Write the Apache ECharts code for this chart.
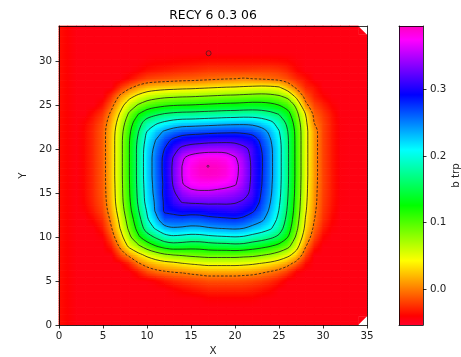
<!DOCTYPE html>
<html><head><meta charset="utf-8">
<script src="https://cdn.jsdelivr.net/npm/echarts@6/dist/echarts.min.js"></script>
<style>html,body{margin:0;padding:0;background:#fff;}#c{width:461px;height:357px;}</style>
</head><body><div id="c"></div>
<script>
const chartTitle = 'RECY 6 0.3 06';
const xTicks = [0, 5, 10, 15, 20, 25, 30, 35];
const yTicks = [0, 5, 10, 15, 20, 25, 30];
const cbarTicks = [0.0, 0.1, 0.2, 0.3];
const xRange = [0, 35];
const yRange = [0, 34];
const colorRange = [-0.054, 0.395];
const valueScale = 0.01; // grid values below are b trp in hundredths
const contourLevels = [0, 4, 8, 12, 16, 20, 24, 28, 32, 36];
const markers = [[17, 30.9], [16.93, 18.05]];
// rows: Y = 0..34, columns: X = 0..35 ; null = no data
const gridRows = [
[-3.6,-4.1,-4.6,-4.6,-4.6,-4.6,-4.6,-4.6,-4.6,-4.6,-4.6,-4.6,-4.6,-4.6,-4.6,-4.6,-4.6,-4.6,-4.6,-4.6,-4.6,-4.6,-4.6,-4.6,-4.6,-4.6,-4.6,-4.6,-4.6,-4.6,-4.6,-4.6,-4.6,-4.6,-4.6,null],
[-3.6,-4.1,-4.6,-4.6,-4.6,-4.6,-4.6,-4.6,-4.6,-4.6,-4.6,-4.6,-4.6,-4.6,-4.6,-4.6,-4.6,-4.6,-4.6,-4.6,-4.6,-4.6,-4.6,-4.6,-4.6,-4.6,-4.6,-4.6,-4.6,-4.6,-4.6,-4.6,-4.6,-4.6,-4.6,-4.6],
[-3.6,-4.1,-4.6,-4.6,-4.6,-4.6,-4.6,-4.6,-4.6,-4.6,-4.6,-4.6,-4.6,-4.6,-4.6,-4.6,-4.6,-4.6,-4.6,-4.6,-4.6,-4.6,-4.6,-4.6,-4.6,-4.6,-4.6,-4.6,-4.6,-4.6,-4.6,-4.6,-4.6,-4.6,-4.6,-4.6],
[-3.6,-4.1,-4.6,-4.6,-4.6,-4.6,-4.6,-4.6,-4.6,-4.6,-4.6,-4.6,-4.6,-4.6,-4.6,-4.6,-4.5,-4.2,-4.2,-4.2,-4.2,-4.2,-4.2,-4.5,-4.6,-4.6,-4.6,-4.6,-4.6,-4.6,-4.6,-4.6,-4.6,-4.6,-4.6,-4.6],
[-3.6,-4.1,-4.6,-4.6,-4.6,-4.6,-4.6,-4.6,-4.6,-4.6,-4.6,-4.6,-4.6,-4.3,-3.9,-3.6,-3.3,-3.0,-3.0,-3.0,-3.0,-3.0,-3.2,-3.5,-3.9,-4.6,-4.6,-4.6,-4.6,-4.6,-4.6,-4.6,-4.6,-4.6,-4.6,-4.6],
[-3.6,-4.1,-4.6,-4.6,-4.6,-4.6,-4.6,-4.6,-4.6,-4.6,-4.6,-4.2,-3.5,-2.9,-2.5,-2.2,-1.9,-1.6,-1.6,-1.6,-1.6,-1.7,-1.9,-2.2,-2.7,-3.5,-4.6,-4.6,-4.6,-4.6,-4.6,-4.6,-4.6,-4.6,-4.6,-4.6],
[-3.6,-4.1,-4.6,-4.6,-4.6,-4.6,-4.6,-4.6,-4.6,-3.5,-1.8,-0.9,-0.4,0.0,0.2,0.6,0.9,1.2,1.2,1.2,1.2,1.0,0.8,0.3,-0.3,-1.1,-2.4,-4.3,-4.6,-4.6,-4.6,-4.6,-4.6,-4.6,-4.6,-4.6],
[-3.6,-4.1,-4.6,-4.6,-4.6,-4.6,-4.6,-4.6,-3.0,-0.3,1.2,2.2,2.9,3.3,3.9,4.3,4.6,4.9,4.9,4.9,4.9,4.7,4.4,3.9,3.3,2.4,1.0,-1.1,-3.8,-4.6,-4.6,-4.6,-4.6,-4.6,-4.6,-4.6],
[-3.6,-4.1,-4.6,-4.6,-4.6,-4.6,-4.6,-1.6,0.9,3.1,4.9,6.4,7.6,8.2,8.5,8.9,9.2,9.5,9.5,9.5,9.5,9.2,9.0,8.4,7.7,6.6,5.0,2.6,-1.6,-4.6,-4.6,-4.6,-4.6,-4.6,-4.6,-4.6],
[-3.6,-4.1,-4.6,-4.6,-4.6,-4.6,-3.0,0.9,4.9,7.4,10.0,12.0,13.6,14.3,14.1,13.7,13.7,14.2,14.5,14.6,14.9,14.7,13.9,13.2,12.3,11.0,9.1,5.3,0.4,-3.1,-4.6,-4.6,-4.6,-4.6,-4.6,-4.6],
[-3.6,-4.1,-4.6,-4.6,-4.6,-4.3,-1.3,2.8,7.2,11.3,14.3,16.5,18.6,19.3,19.0,18.6,18.7,19.2,19.5,19.7,19.9,19.6,18.7,17.9,16.8,15.2,12.0,7.3,2.1,-1.6,-4.0,-4.6,-4.6,-4.6,-4.6,-4.6],
[-3.6,-4.1,-4.6,-4.6,-4.5,-3.2,0.0,4.3,8.9,13.3,17.8,20.5,22.8,23.7,23.5,23.1,23.2,23.7,24.0,24.2,24.4,24.0,23.0,21.9,20.5,17.8,13.8,8.7,3.3,-0.6,-3.1,-4.3,-4.6,-4.6,-4.6,-4.6],
[-3.6,-4.1,-4.6,-4.6,-3.8,-2.5,0.8,5.1,9.9,14.5,19.5,22.8,26.5,26.6,26.7,26.4,26.5,27.0,27.3,27.5,27.7,27.2,26.0,24.7,22.3,19.1,14.8,9.5,3.9,0.1,-2.5,-3.9,-4.6,-4.6,-4.6,-4.6],
[-3.6,-4.1,-4.6,-4.2,-3.1,-1.7,1.6,6.0,10.9,15.7,20.3,24.5,28.5,29.0,29.6,29.4,29.5,29.9,30.1,30.3,30.5,29.8,28.5,26.3,23.4,19.9,15.5,10.1,4.4,0.5,-2.2,-3.6,-4.6,-4.6,-4.6,-4.6],
[-3.6,-4.1,-4.6,-3.9,-2.7,-1.3,2.1,6.6,11.5,16.4,21.3,24.6,28.6,30.7,32.2,32.5,32.6,32.7,32.6,32.6,32.3,31.6,30.3,27.3,24.1,20.5,15.9,10.4,4.7,0.8,-2.0,-3.4,-4.5,-4.6,-4.6,-4.6],
[-3.6,-4.1,-4.6,-3.8,-2.6,-1.1,2.3,6.8,11.8,16.7,21.6,25.1,28.9,31.5,33.8,35.0,35.3,35.3,35.0,34.6,34.0,33.0,31.2,27.8,24.6,20.9,16.2,10.7,4.9,0.9,-1.9,-3.3,-4.5,-4.6,-4.6,-4.6],
[-3.6,-4.1,-4.6,-3.8,-2.6,-1.0,2.4,6.9,11.9,16.9,21.8,25.3,28.7,32.3,35.8,37.2,37.6,37.6,37.4,37.0,36.3,34.0,31.2,28.2,24.8,21.1,16.4,10.8,5.0,1.0,-1.8,-3.3,-4.5,-4.6,-4.6,-4.6],
[-3.6,-4.1,-4.6,-3.8,-2.6,-1.0,2.5,7.0,12.0,17.0,22.0,25.5,28.9,32.6,36.1,38.0,38.9,39.2,39.0,38.4,36.8,34.5,31.3,28.3,25.0,21.2,16.5,10.9,5.1,1.1,-1.8,-3.3,-4.5,-4.6,-4.6,-4.6],
[-3.6,-4.1,-4.6,-3.8,-2.6,-1.0,2.5,7.0,12.0,17.0,22.0,25.5,29.0,32.6,36.1,38.1,39.2,39.5,39.3,38.6,36.9,34.6,31.3,28.4,25.0,21.2,16.5,10.9,5.1,1.1,-1.8,-3.3,-4.5,-4.6,-4.6,-4.6],
[-3.6,-4.1,-4.6,-3.8,-2.6,-1.0,2.5,7.0,12.0,17.0,22.0,25.5,28.9,32.2,35.5,37.3,38.1,38.4,38.3,37.8,36.3,34.2,31.1,28.4,25.0,21.2,16.5,10.9,5.1,1.1,-1.8,-3.3,-4.5,-4.6,-4.6,-4.6],
[-3.6,-4.1,-4.6,-3.8,-2.6,-1.0,2.5,7.0,12.0,17.0,21.8,25.0,28.1,30.8,32.9,33.8,34.3,34.6,34.7,34.6,34.1,32.8,31.1,28.0,24.9,21.2,16.5,10.9,5.1,1.1,-1.8,-3.3,-4.5,-4.6,-4.6,-4.6],
[-3.6,-4.1,-4.6,-3.8,-2.6,-1.0,2.5,7.0,11.9,16.6,21.1,24.1,26.8,28.7,29.9,30.4,30.6,30.9,31.0,31.1,31.0,30.5,29.7,27.2,24.3,20.9,16.4,10.9,5.1,1.1,-1.8,-3.3,-4.5,-4.6,-4.6,-4.6],
[-3.6,-4.1,-4.6,-3.8,-2.6,-1.0,2.4,6.7,11.4,15.8,20.0,22.6,24.4,25.6,26.4,26.7,26.9,27.1,27.3,27.4,27.5,27.3,26.8,25.5,23.2,20.2,16.0,10.8,5.1,1.1,-1.8,-3.3,-4.5,-4.6,-4.6,-4.6],
[-3.6,-4.1,-4.6,-4.0,-2.9,-1.4,1.8,5.9,10.3,14.4,17.8,19.4,20.6,21.5,22.0,22.1,22.3,22.5,22.7,22.9,23.0,23.1,22.9,22.1,20.9,18.6,15.0,10.1,4.8,0.0,-1.8,-3.3,-4.5,-4.6,-4.6,-4.6],
[-3.6,-4.1,-4.6,-4.6,-3.5,-2.2,0.8,4.6,8.6,11.9,14.1,15.3,16.2,16.7,17.0,17.1,17.3,17.5,17.7,17.9,18.0,18.2,18.2,17.9,17.1,15.8,13.2,8.9,4.0,-0.8,-2.2,-3.5,-4.6,-4.6,-4.6,-4.6],
[-3.6,-4.1,-4.6,-4.6,-4.6,-3.5,-0.7,2.8,6.1,8.3,9.9,10.8,11.4,11.8,12.0,12.1,12.3,12.5,12.7,12.9,13.0,13.2,13.4,13.3,12.9,12.0,10.4,7.1,0.8,-1.8,-3.0,-4.1,-4.6,-4.6,-4.6,-4.6],
[-3.6,-4.1,-4.6,-4.6,-4.6,-4.6,-2.4,0.7,3.0,4.8,6.1,6.8,7.3,7.5,7.7,7.8,8.0,8.2,8.4,8.6,8.7,8.9,9.1,9.2,9.0,8.4,7.1,3.0,-1.0,-3.0,-4.0,-4.6,-4.6,-4.6,-4.6,-4.6],
[-3.6,-4.1,-4.6,-4.6,-4.6,-4.6,-4.6,-2.4,-0.5,1.0,2.1,2.6,2.9,3.1,3.3,3.4,3.6,3.8,4.0,4.2,4.3,4.5,4.7,4.9,4.8,4.4,2.0,-0.5,-2.8,-3.5,-4.6,-4.6,-4.6,-4.6,-4.6,-4.6],
[-3.6,-4.1,-4.6,-4.6,-4.6,-4.6,-4.6,-4.6,-3.8,-2.7,-1.9,-1.6,-1.4,-1.2,-1.0,-0.9,-0.7,-0.5,-0.3,-0.1,0.0,0.2,0.0,-0.2,-0.5,-0.9,-1.6,-2.8,-3.6,-4.6,-4.6,-4.6,-4.6,-4.6,-4.6,-4.6],
[-3.6,-4.1,-4.6,-4.6,-4.6,-4.6,-4.6,-4.6,-4.6,-4.3,-3.7,-3.5,-3.3,-3.1,-2.9,-2.8,-2.6,-2.4,-2.4,-2.4,-2.4,-2.4,-2.3,-2.2,-2.2,-2.4,-3.0,-4.0,-4.6,-4.6,-4.6,-4.6,-4.6,-4.6,-4.6,-4.6],
[-3.6,-4.1,-4.6,-4.6,-4.6,-4.6,-4.6,-4.6,-4.6,-4.6,-4.4,-4.2,-4.2,-4.1,-4.0,-3.9,-3.8,-3.7,-3.7,-3.7,-3.7,-3.7,-3.7,-3.7,-3.7,-3.8,-4.0,-4.4,-4.6,-4.6,-4.6,-4.6,-4.6,-4.6,-4.6,-4.6],
[-3.6,-4.1,-4.6,-4.6,-4.6,-4.6,-4.6,-4.6,-4.6,-4.6,-4.6,-4.6,-4.6,-4.6,-4.6,-4.6,-4.6,-4.6,-4.6,-4.6,-4.6,-4.6,-4.6,-4.6,-4.6,-4.6,-4.6,-4.6,-4.6,-4.6,-4.6,-4.6,-4.6,-4.6,-4.6,-4.6],
[-3.6,-4.1,-4.6,-4.6,-4.6,-4.6,-4.6,-4.6,-4.6,-4.6,-4.6,-4.6,-4.6,-4.6,-4.6,-4.6,-4.6,-4.6,-4.6,-4.6,-4.6,-4.6,-4.6,-4.6,-4.6,-4.6,-4.6,-4.6,-4.6,-4.6,-4.6,-4.6,-4.6,-4.6,-4.6,-4.6],
[-3.6,-4.1,-4.6,-4.6,-4.6,-4.6,-4.6,-4.6,-4.6,-4.6,-4.6,-4.6,-4.6,-4.6,-4.6,-4.6,-4.6,-4.6,-4.6,-4.6,-4.6,-4.6,-4.6,-4.6,-4.6,-4.6,-4.6,-4.6,-4.6,-4.6,-4.6,-4.6,-4.6,-4.6,-4.6,-4.6],
[-3.6,-4.1,-4.6,-4.6,-4.6,-4.6,-4.6,-4.6,-4.6,-4.6,-4.6,-4.6,-4.6,-4.6,-4.6,-4.6,-4.6,-4.6,-4.6,-4.6,-4.6,-4.6,-4.6,-4.6,-4.6,-4.6,-4.6,-4.6,-4.6,-4.6,-4.6,-4.6,-4.6,-4.6,-4.6,null]
];

// ---- gist_rainbow colormap (style) ----
const cmapKnots = [0, 0.03, 0.215, 0.4, 0.586, 0.77, 0.954, 1];
const cmapRGB = [[1,0,0.16],[1,0,0],[1,1,0],[0,1,0],[0,1,1],[0,0,1],[1,0,1],[1,0,0.75]];
function rgbStr(c){return 'rgb('+Math.round(c[0]*255)+','+Math.round(c[1]*255)+','+Math.round(c[2]*255)+')';}
function cmapFrac(f){
  f = Math.max(0, Math.min(1, f));
  for (let k = 0; k < cmapKnots.length - 1; k++) {
    if (f <= cmapKnots[k+1]) {
      const t = (f - cmapKnots[k]) / (cmapKnots[k+1] - cmapKnots[k]);
      const a = cmapRGB[k], b = cmapRGB[k+1];
      return rgbStr([a[0]+(b[0]-a[0])*t, a[1]+(b[1]-a[1])*t, a[2]+(b[2]-a[2])*t]);
    }
  }
  return rgbStr(cmapRGB[cmapRGB.length-1]);
}
function colorOf(v){ return cmapFrac((v*valueScale - colorRange[0]) / (colorRange[1] - colorRange[0])); }

// ---- cells ----
const nY = gridRows.length, nX = gridRows[0].length;
const cells = [];
for (let j = 0; j < nY - 1; j++) for (let i = 0; i < nX - 1; i++) cells.push([i, j]);

function renderCell(params, api){
  const i = api.value(0), j = api.value(1);
  const v00 = gridRows[j][i], v10 = gridRows[j][i+1], v01 = gridRows[j+1][i], v11 = gridRows[j+1][i+1];
  const corners = [[v00,i,j],[v10,i+1,j],[v11,i+1,j+1],[v01,i,j+1]];
  if (corners.some(c => c[0] === null)) {
    const ok = corners.filter(c => c[0] !== null);
    if (ok.length < 3) return null;
    const avg = ok.reduce((s,c)=>s+c[0],0)/ok.length;
    return {type:'polygon', shape:{points: ok.map(c => api.coord([c[1], c[2]]))}, style:{fill: colorOf(avg)}};
  }
  const pA = api.coord([i, j]), pB = api.coord([i+1, j+1]);
  const x0 = pA[0], x1 = pB[0], yb = pA[1], yt = pB[1];
  const n = 5, children = [];
  for (let k = 0; k < n; k++) {
    const tm = (k + 0.5) / n;
    const L = v00 + (v01 - v00) * tm, R = v10 + (v11 - v10) * tm;
    const yTop = yb + (yt - yb) * (k + 1) / n, yBot = yb + (yt - yb) * k / n;
    const stops = [0, 0.25, 0.5, 0.75, 1].map(s => ({offset: s, color: colorOf(L + (R - L) * s)}));
    children.push({type:'rect', shape:{x: x0 - 0.35, y: yTop - 0.35, width: x1 - x0 + 0.7, height: yBot - yTop + 0.7},
      style:{fill:{type:'linear', x:0, y:0, x2:1, y2:0, colorStops: stops, global:false}}});
  }
  return {type:'group', children};
}

// ---- contours (marching squares on the grid) ----
function contourLines(level){
  const val = (i,j) => gridRows[j][i];
  function ep(kind, i, j){
    if (kind === 'h') { const a = val(i,j), b = val(i+1,j); const t = (level-a)/(b-a); return ['h'+i+'_'+j, [i+t, j]]; }
    const a = val(i,j), b = val(i,j+1); const t = (level-a)/(b-a); return ['v'+i+'_'+j, [i, j+t]];
  }
  const segs = [];
  for (let j = 0; j < nY-1; j++) for (let i = 0; i < nX-1; i++) {
    const v00 = val(i,j), v10 = val(i+1,j), v11 = val(i+1,j+1), v01 = val(i,j+1);
    if (v00 === null || v10 === null || v11 === null || v01 === null) continue;
    const b00 = v00 > level, b10 = v10 > level, b11 = v11 > level, b01 = v01 > level;
    const e = [];
    if (b00 !== b10) e.push(ep('h', i, j));
    if (b10 !== b11) e.push(ep('v', i+1, j));
    if (b01 !== b11) e.push(ep('h', i, j+1));
    if (b00 !== b01) e.push(ep('v', i, j));
    if (e.length === 2) segs.push([e[0], e[1]]);
    else if (e.length === 4) {
      const c = (v00+v10+v11+v01)/4 > level;
      if (c === b00) { segs.push([e[0], e[1]]); segs.push([e[2], e[3]]); }
      else { segs.push([e[3], e[0]]); segs.push([e[1], e[2]]); }
    }
  }
  const byKey = new Map();
  segs.forEach((s, idx) => s.forEach(p => { if (!byKey.has(p[0])) byKey.set(p[0], []); byKey.get(p[0]).push(idx); }));
  const used = new Array(segs.length).fill(false);
  const lines = [];
  for (let s0 = 0; s0 < segs.length; s0++) {
    if (used[s0]) continue;
    used[s0] = true;
    const pts = [segs[s0][0][1], segs[s0][1][1]];
    let endKey = segs[s0][1][0];
    for (;;) {
      const c = (byKey.get(endKey) || []).filter(k => !used[k]);
      if (!c.length) break;
      used[c[0]] = true; const s = segs[c[0]];
      const o = s[0][0] === endKey ? s[1] : s[0];
      pts.push(o[1]); endKey = o[0];
    }
    let startKey = segs[s0][0][0];
    for (;;) {
      const c = (byKey.get(startKey) || []).filter(k => !used[k]);
      if (!c.length) break;
      used[c[0]] = true; const s = segs[c[0]];
      const o = s[0][0] === startKey ? s[1] : s[0];
      pts.unshift(o[1]); startKey = o[0];
    }
    lines.push(pts);
  }
  return lines;
}

const font = 'DejaVu Sans';
const series = [];
series.push({type:'custom', xAxisIndex:0, yAxisIndex:0, data: cells, encode:{x:0, y:1},
  renderItem: renderCell, silent:true, progressive:0, animation:false, z:1});
contourLevels.forEach(L => {
  contourLines(L).forEach(pts => {
    series.push({type:'line', xAxisIndex:0, yAxisIndex:0, data: pts, showSymbol:false, symbol:'none',
      smooth:0.3, silent:true, animation:false, z:5,
      lineStyle:{color:'#1a1a1a', width:0.8, type: L <= 0 ? [2.6, 1.6] : 'solid'}});
  });
});
series.push({type:'scatter', xAxisIndex:0, yAxisIndex:0, data: markers, symbol:'circle',
  symbolSize: (v, p) => p.dataIndex === 0 ? 5 : 2, silent:true, animation:false, z:6,
  itemStyle:{color:'rgba(0,0,0,0)', borderColor:'#222', borderWidth:0.8}});
// colorbar
series.push({type:'custom', xAxisIndex:2, yAxisIndex:2, data:[[0, colorRange[0]]], silent:true, animation:false, z:1,
  renderItem: function(params, api){
    const p0 = api.coord([0, colorRange[0]]), p1 = api.coord([1, colorRange[1]]);
    return {type:'rect', shape:{x:p0[0], y:p1[1], width:p1[0]-p0[0], height:p0[1]-p1[1]},
      style:{fill:{type:'linear', x:0, y:1, x2:0, y2:0, global:false,
        colorStops: cmapKnots.map((k, i) => ({offset:k, color: rgbStr(cmapRGB[i])}))}}};
  }});

const lineOnly = (extra) => Object.assign({type:'value', z:10, splitLine:{show:false},
  axisLine:{show:true, onZero:false, lineStyle:{color:'#000', width:0.8}},
  axisTick:{show:false}, axisLabel:{show:false}}, extra);
const tickStyle = {color:'#000', width:0.8};
const labelStyle = {fontSize:10.3, color:'#222', fontFamily:font};

const option = {
  animation:false,
  textStyle:{fontFamily:font},
  title:{text: chartTitle, left:213, top:9.5, padding:0, textAlign:'center',
    textStyle:{fontSize:12.4, fontWeight:'normal', color:'#000', fontFamily:font}},
  grid:[{left:59, top:26, width:308, height:299, outerBoundsMode:'none', containLabel:false},
        {left:399, top:26, width:24, height:299, outerBoundsMode:'none', containLabel:false}],
  xAxis:[
    {type:'value', gridIndex:0, min:xRange[0], max:xRange[1], interval:5, position:'bottom', z:10,
      splitLine:{show:false}, axisLine:{show:true, onZero:false, lineStyle:tickStyle},
      axisTick:{show:true, length:3.5, lineStyle:tickStyle, customValues:xTicks},
      axisLabel:Object.assign({margin:6, customValues:xTicks}, labelStyle),
      name:'X', nameLocation:'middle', nameGap:21, nameTextStyle:labelStyle},
    lineOnly({gridIndex:0, min:xRange[0], max:xRange[1], position:'top'}),
    lineOnly({gridIndex:1, min:0, max:1, position:'bottom'}),
    lineOnly({gridIndex:1, min:0, max:1, position:'top'})
  ],
  yAxis:[
    {type:'value', gridIndex:0, min:yRange[0], max:yRange[1], interval:5, position:'left', z:10,
      splitLine:{show:false}, axisLine:{show:true, onZero:false, lineStyle:tickStyle},
      axisTick:{show:true, length:3.5, lineStyle:tickStyle, customValues:yTicks},
      axisLabel:Object.assign({margin:7, customValues:yTicks}, labelStyle),
      name:'Y', nameLocation:'middle', nameGap:26, nameRotate:90, nameTextStyle:labelStyle},
    lineOnly({gridIndex:0, min:yRange[0], max:yRange[1], position:'right'}),
    {type:'value', gridIndex:1, min:colorRange[0], max:colorRange[1], position:'right', z:10,
      splitLine:{show:false}, axisLine:{show:true, onZero:false, lineStyle:tickStyle},
      axisTick:{show:true, length:3.5, lineStyle:tickStyle, customValues:cbarTicks},
      axisLabel:Object.assign({margin:7, customValues:cbarTicks, formatter: v => Number(v).toFixed(1)}, labelStyle),
      name:'b trp', nameLocation:'middle', nameGap:28, nameRotate:90, nameTextStyle:labelStyle},
    lineOnly({gridIndex:1, min:colorRange[0], max:colorRange[1], position:'left'})
  ],
  series: series
};
const chart = echarts.init(document.getElementById('c'), null, {renderer:'canvas'});
chart.setOption(option);
</script>
</body></html>
